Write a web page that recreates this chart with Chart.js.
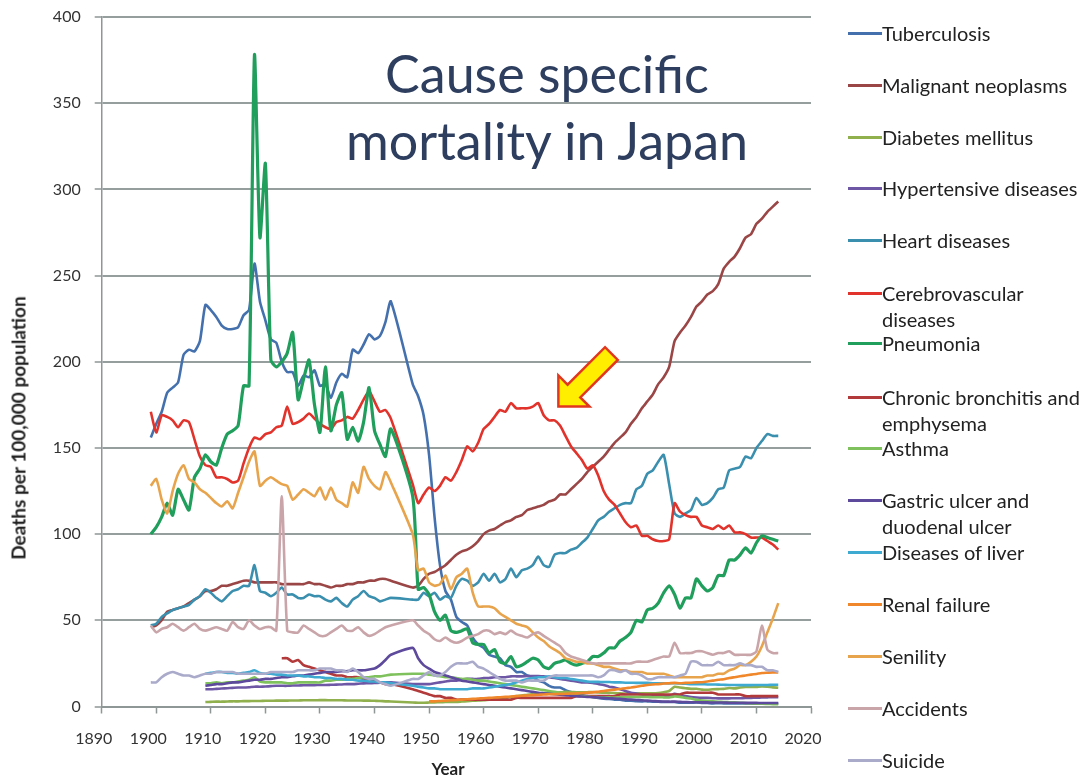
<!DOCTYPE html>
<html>
<head>
<meta charset="utf-8">
<script src="https://cdn.jsdelivr.net/npm/chart.js"></script>
<style>
  html, body { margin: 0; padding: 0; background: #fff; }
  #wrap { position: relative; width: 1091px; height: 779px; font-family: Lato, "Open Sans", sans-serif; color: #333; }
  #chart { position: absolute; left: 0; top: 0; }
  #title { position: absolute; left: 297px; top: 40px; width: 500px; text-align: center; color: #2d3e5f; font-size: 52px; line-height: 67px; }
  #ytitle { position: absolute; left: 18px; top: 428px; transform: translate(-50%, -50%) rotate(-90deg); white-space: nowrap; font-weight: bold; font-size: 19px; color: #222; }
  #xtitle { position: absolute; left: 448px; top: 768px; transform: translate(-50%, -50%); font-weight: bold; font-size: 17px; color: #222; }
  .item { position: absolute; left: 848px; line-height: 26px; font-size: 20px; color: #222; white-space: nowrap; }
  .item .mark { position: absolute; left: 0; top: 12px; width: 34px; height: 3px; }
  .item .txt { position: absolute; left: 34px; top: 0; }
</style>
</head>
<body>
<div id="wrap">
  <canvas id="chart" width="1091" height="779"></canvas>
  <div id="title">Cause specific<br>mortality in Japan</div>
  <div id="ytitle">Deaths per 100,000 population</div>
  <div id="xtitle">Year</div>
  <div id="legend"></div>
</div>
<script>
// Deaths per 100,000 population, one value per year, null = no data (1944-46)
const tuberculosis = [
  156,164,171,182,185,188,204,207,206,212,
  233,230,226,221,219,219,220,227,230,257,
  235,224,213,211,200,194,194,186,192,191,
  195,186,187,179,188,193,191,207,205,210,
  216,213,215,223,235,null,null,null,187,180,
  169,146,110,82,67,62,52,49,47,40,
  36,34,30,29,28,24,23,20,20,18,
  17,15,14,12,11,11,9.5,8.4,7.4,6.6,
  6.1,5.5,4.9,4.5,4.4,4.0,3.9,3.4,3.4,3.1,
  3.0,3.0,2.8,2.8,2.6,2.6,2.6,2.2,2.2,2.2,
  2.3,2.1,2.0,1.8,1.9,1.8,1.8,1.8,1.7,1.8,
  1.7,1.7,1.7,1.7,1.7,1.7
];
const malignant = [
  46,47,50,55,56,57,58,60,62,64,
  67,67,68,70,70,71,72,73,73,72,
  72,72,72,72,71,71,71,71,71,72,
  71,71,70,69,70,70,71,71,72,72,
  73,73,74,74,73,null,null,null,69,70,
  74,77,78,80,82,85,88,90,91,93,
  96,100,102,103,105,107,108,110,111,114,
  115,116,117,119,120,123,123,126,129,132,
  136,139,142,145,149,153,156,159,164,168,
  173,177,181,187,191,197,212,217,221,226,
  232,235,239,241,245,254,258,261,266,272,
  274,280,283,287,290,293
];
const diabetes = [
  2.6,2.7,2.8,2.8,2.9,3.0,3.0,3.1,3.1,3.2,
  3.2,3.3,3.3,3.4,3.4,3.4,3.5,3.5,3.6,3.6,
  3.6,3.7,3.7,3.6,3.6,3.6,3.5,3.5,3.5,3.4,
  3.4,3.3,3.2,3.0,2.9,null,null,null,2.3,2.2,
  2.2,2.3,2.4,2.5,2.6,2.7,2.7,2.9,3.1,3.3,
  3.5,3.6,4.0,4.2,4.6,5.0,5.5,6.0,6.3,6.8,
  7.2,7.5,7.7,7.9,8.0,8.2,8.5,8.4,8.3,8.2,
  8.3,8.4,8.1,8.0,7.9,7.8,7.6,7.5,7.6,7.6,
  7.7,7.7,7.6,7.8,8.3,9.0,11.4,11.0,10.6,10.2,
  10.3,9.8,9.7,10.0,10.1,10.2,10.7,10.5,11.0,11.3,
  11.3,11.4,11.7,11.5,11.1,10.9
];
const hypertensive = [
  10,10,10.2,10.4,10.6,10.8,11,11,11.2,11.5,
  11.5,11.6,11.8,12,12,12,12.2,12.2,12.3,12.4,
  12.4,12.5,12.5,12.6,12.7,12.8,13,13,13.2,13.4,
  13.5,13.6,13.8,14,14,null,null,null,13,13,
  13,13,13.5,14,14.5,15,15,15.5,16,16,
  16,16.5,16.5,17,17,17,17.5,17.5,17.5,17.7,
  17.7,17.7,17.5,17,16.5,16,15.5,15,14.5,14,
  14,13.7,13,12.5,11.5,11,10,9,8,7.5,
  7,6.4,6.2,6,6,6,7.3,6.5,6,5.5,
  5.2,5.0,5.0,4.8,4.7,4.7,4.7,4.8,4.8,4.9,
  5.0,5.1,5.2,5.3,5.4,5.4
];
const heart = [
  47,48,52,54,56,57,58,59,62,64,
  68,66,63,61,64,67,68,70,70,82,
  67,66,64,66,69,65,65,63,63,65,
  64,64,62,61,63,60,58,62,64,67,
  64,63,61,62,63,null,null,null,62,62,
  66,64,66,62,64,63,70,74,73,70,
  72,77,73,77,72,74,80,75,79,80,
  82,87,82,81,88,89,89,91,92,95,
  98,103,108,110,113,115,117,118,118,126,
  128,135,137,142,146,129,112,110,112,114,
  121,117,118,121,126,127,137,138,139,145,
  144,150,154,158,157,157
];
const cerebrovascular = [
  171,159,169,168,166,162,166,165,155,145,
  140,139,133,133,132,130,131,141,150,156,
  155,158,159,162,163,174,164,165,167,170,
  167,164,162,161,165,166,168,167,172,178,
  183,177,171,172,167,null,null,null,129,118,
  123,127,125,128,133,131,136,143,151,148,
  153,161,164,168,172,171,176,173,173,173,
  174,176,169,166,166,163,157,151,147,143,
  138,140,134,125,120,117,112,107,104,105,
  99,99,97,96,96,97,118,113,111,110,
  110,105,104,103,105,103,105,101,101,100,
  98,98,98,96,94,91
];
const pneumonia = [
  100,104,110,118,111,126,120,114,133,138,
  146,142,140,150,158,160,163,186,186,378,
  272,315,201,197,200,205,217,178,190,201,
  175,159,197,160,175,182,155,162,154,165,
  185,160,152,145,161,null,null,null,122,68,
  69,65,55,50,53,44,43,44,45,37,
  36,36,31,33,26,25,29,23,24,26,
  28,27,23,22,25,26,27,25,24,25,
  26,29,29,31,34,34,38,40,43,50,
  49,56,57,60,66,70,65,57,63,63,
  74,70,67,69,76,76,85,85,88,92,
  89,95,99,98,97,96
];
const bronchitis = [
  28,28,26,27,24,23,22,21,20,19,
  18,18,17,17,17,16,16,15,14,13,
  13,null,null,null,10,9,8,7,6,6,
  5,5,4,4,4,4,4,4,4,4,
  4,4,4,5,5,5,5,5,5,5,
  5,5,5,5,6,6,6,6,6,6,
  6,6,7,7,7,7,7,7,7,7,
  7,7,7,7,8,8,8,8,8,8,
  7,7,7,7,7,6,6,6,6,6,
  6,6
];
const asthma = [
  13.5,13.5,14,13.5,14,14,14.5,15,15.5,17,
  14.5,14,14,14,14,13.5,13.5,14,14,14,
  14,14,15,15,15.5,15.5,16,16,16.5,17,
  17,17.5,17.5,18,18.5,null,null,null,19,19,
  19,18.5,18,17.5,17,17,16.5,16,16,15.5,
  15,15,14.5,14,13.5,13,12.5,12,11.5,11,
  10.5,10,9.5,9,8.5,8,7.5,7,6.5,6,
  5.8,5.5,5.4,5.3,5.3,5.2,5.3,5.4,5.5,5.5,
  5.5,5.5,5.4,5.4,5.3,5.2,5.8,5.6,5.0,4.6,
  3.9,3.5,3.2,3.0,2.8,2.6,2.5,2.4,2.2,2.0,
  1.7,1.6,1.6,1.5,1.4,1.3
];
const ulcer = [
  12,12.5,13,13,13.5,14,14,14.5,15,15.5,
  15.5,16,16,16.5,17,17,17.5,18,18,18.5,
  19,19.5,20,20,20,20.5,20.5,21,21,21,
  21.5,22,24,27,30,null,null,null,34,28,
  24,22,20,19,18,17,16,15,14.5,14,
  13.5,13,12.5,12,11.5,11,10.5,10,9.5,9,
  8.5,8,7.7,7.4,7.1,6.8,6.5,6.2,6,5.8,
  5.6,5.4,5.2,5.0,4.8,4.6,4.4,4.2,4.0,3.8,
  3.6,3.4,3.2,3.0,2.9,2.8,2.8,2.7,2.6,2.5,
  2.5,2.4,2.4,2.3,2.3,2.3,2.2,2.2,2.2,2.1,
  2.1,2.1,2.0,2.0,2.0,2.0
];
const liver = [
  19,19.5,20,20,19.5,19.5,19,19.5,20,21,
  19.5,19,19,18.5,18.5,18,18,18,17.5,17.5,
  17,17,16.5,16.5,16,16,15.5,15.5,15,15,
  14.5,14.5,14,14,13.5,null,null,null,12,11.5,
  11,10.5,10.5,10,10,10,10,10,10,10.5,
  10.5,10.5,11,11.5,12,12.5,13,14,15,16,
  16.5,17,17,17.5,17,16.5,16.5,16,15.5,15,
  14.5,14.3,14.3,14.2,14.2,14,14,13.8,13.8,13.7,
  13.7,13.7,13.5,13.5,13.5,13.4,13.5,13.3,13.2,13,
  13,13,12.8,12.8,12.7,12.6,12.5,12.5,12.4,12.4,
  12.4,12.5,12.5,12.5,12.6,12.6
];
const renal = [
  3,3,3.2,3.4,3.6,3.8,4,4.2,4.4,4.6,
  4.8,5,5.2,5.4,5.6,5.8,6,6.2,6.4,6.6,
  6.8,7,7.1,7.2,7.3,7.4,7.5,7.6,7.8,8,
  8.2,8.6,9,9.4,9.8,10.2,10.6,11,11.5,12,
  12.5,12.8,13,13.3,13.5,13.7,13.5,13.7,13.8,14,
  14.1,14.5,15,15.5,15.8,16.5,17,17.5,18,18.5,
  18.9,19.4,19.6,19.8,19.8
];
const senility = [
  128,132,120,112,125,135,140,132,130,126,
  124,121,118,116,119,115,124,133,142,148,
  128,131,133,131,129,128,120,123,126,124,
  122,127,120,127,120,118,116,130,124,139,
  132,128,126,136,130,null,null,null,100,79,
  80,72,70,71,76,68,75,77,80,66,
  58,58,58,57,54,52,50,48,47,46,
  43,40,38,35,33,31,28,27,26,26,
  25,25,24,23,23,22,21,21,20,20,
  20,19,19,19,19,18,17,17,17,17,
  17,17,18,18,19,19,21,22,24,24,
  26,29,35,43,51,60
];
const accidents = [
  47,43,45,46,48,46,44,46,48,45,
  44,45,46,45,44,49,46,45,50,47,
  45,46,46,44,122,44,43,43,47,45,
  43,41,41,43,45,47,44,44,46,43,
  41,42,44,46,47,null,null,null,50,47,
  44,42,39,38,40,38,37,38,40,41,
  42,44,44,42,43,42,44,42,41,40,
  42,43,41,39,37,35,31,29,28,27,
  26,25,25,25,25,25,25,25,25,26,
  26,26,27,28,29,29,37,31,31,31,
  32,32,31,30,31,31,32,30,30,30,
  30,32,47,33,31,31
];
const suicide = [
  14,14,17,19,20,19,18,18,17,18,
  19,19,20,20,20,20,19,19,19,19,
  19,19,20,20,20,20,20,21,21,21,
  21,22,22,22,21,21,20,22,20,17,
  16,16,14,13,12,null,null,null,16,16,
  18,20,18,18,20,23,25,25,25,26,
  23,22,20,18,16,15,15,15,14,15,
  15,15,15,17,18,18,18,18,18,18,
  18,18,17,18,21,21,20,21,19,19,
  18,16,16,17,17,17,17,18,19,26,
  26,24,24,24,26,24,24,24,25,24,
  24,23,23,21,21,20
];

const seriesNames = [
  "Tuberculosis", "Malignant neoplasms", "Diabetes mellitus", "Hypertensive diseases",
  "Heart diseases", "Cerebrovascular diseases", "Pneumonia", "Chronic bronchitis and emphysema",
  "Asthma", "Gastric ulcer and duodenal ulcer", "Diseases of liver", "Renal failure",
  "Senility", "Accidents", "Suicide"
];
// legend text broken the way the original legend wraps it
const legendText = [
  "Tuberculosis", "Malignant neoplasms", "Diabetes mellitus", "Hypertensive diseases",
  "Heart diseases", "Cerebrovascular<br>diseases", "Pneumonia", "Chronic bronchitis and<br>emphysema",
  "Asthma", "Gastric ulcer and<br>duodenal ulcer", "Diseases of liver", "Renal failure",
  "Senility", "Accidents", "Suicide"
];
const seriesValues = [
  tuberculosis, malignant, diabetes, hypertensive, heart, cerebrovascular, pneumonia,
  bronchitis, asthma, ulcer, liver, renal, senility, accidents, suicide
];
const seriesStart = [1899, 1899, 1909, 1909, 1899, 1899, 1899, 1923, 1909, 1909, 1909, 1950, 1899, 1899, 1899];
const seriesColors = [
  "#4471ad", "#9b4646", "#8fb04c", "#6e58a6", "#3a8fae", "#e1332b", "#1f9e5c", "#b33a3a",
  "#7fc25d", "#5e4a9c", "#3ea9d1", "#f0882b", "#e8a44c", "#c9a5aa", "#aaaacb"
];
const legendY = [33, 85, 137, 188, 240, 293, 343, 397, 448, 500, 552, 604, 656, 708, 760];

const xTicks = { min: 1890, max: 2020, step: 10 };
const yTicks = { min: 0, max: 400, step: 50 };
const arrowTip = [1973.7, 174];

const datasets = seriesNames.map((name, i) => ({
  label: name,
  data: seriesValues[i].map((v, k) => ({ x: seriesStart[i] + k, y: v })),
  borderColor: seriesColors[i],
  backgroundColor: seriesColors[i],
  borderWidth: name === "Pneumonia" ? 3.2 : 2.6,
  pointRadius: 0,
  tension: 0.2,
  spanGaps: true,
  fill: false,
  order: -i
}));

// yellow arrow pointing at the 1970 cerebrovascular peak
const arrowPlugin = {
  id: "arrow",
  afterDatasetsDraw(chart) {
    const { ctx, scales } = chart;
    const tx = scales.x.getPixelForValue(arrowTip[0]);
    const ty = scales.y.getPixelForValue(arrowTip[1]);
    const d = [Math.SQRT1_2, -Math.SQRT1_2];
    const p = [Math.SQRT1_2, Math.SQRT1_2];
    const shape = [[0, 0], [22, 22], [22, 9], [75, 9], [75, -9], [22, -9], [22, -22]];
    ctx.save();
    ctx.beginPath();
    shape.forEach(([u, w], k) => {
      const px = tx + u * d[0] + w * p[0];
      const py = ty + u * d[1] + w * p[1];
      if (k === 0) ctx.moveTo(px, py); else ctx.lineTo(px, py);
    });
    ctx.closePath();
    ctx.fillStyle = "#ffee00";
    ctx.fill();
    ctx.lineWidth = 2.5;
    ctx.lineJoin = "miter";
    ctx.strokeStyle = "#e2371f";
    ctx.stroke();
    ctx.restore();
  }
};

new Chart(document.getElementById("chart"), {
  type: "line",
  data: { datasets: datasets },
  plugins: [arrowPlugin],
  options: {
    responsive: false,
    animation: false,
    layout: { padding: { left: 0, top: 17, right: 280, bottom: 0 } },
    plugins: { legend: { display: false }, tooltip: { enabled: false } },
    scales: {
      x: {
        type: "linear",
        min: xTicks.min,
        max: xTicks.max,
        afterFit: (scale) => { scale.height = 72.5; },
        ticks: {
          stepSize: xTicks.step,
          autoSkip: false,
          maxRotation: 0,
          padding: 16,
          labelOffset: -8,
          color: "#333",
          font: { family: "Lato", size: 16 },
          callback: (v) => String(v)
        },
        grid: { drawOnChartArea: false, drawTicks: true, tickLength: 7, tickColor: "#8e9696", tickWidth: 1.5 },
        border: { display: true, color: "#8e9696", width: 2 }
      },
      y: {
        min: yTicks.min,
        max: yTicks.max,
        afterFit: (scale) => { scale.width = 101.7; scale.paddingTop = 0; scale.paddingBottom = 0; },
        ticks: {
          stepSize: yTicks.step,
          padding: 14,
          color: "#333",
          font: { family: "Lato", size: 16 },
          callback: (v) => String(v)
        },
        grid: { color: "#959d9d", lineWidth: 2, tickLength: 7, tickColor: "#8e9696", tickWidth: 1.5 },
        border: { display: true, color: "#8e9696", width: 1.5 }
      }
    }
  }
});

const legend = document.getElementById("legend");
seriesNames.forEach((name, i) => {
  const item = document.createElement("div");
  item.className = "item";
  item.style.top = (legendY[i] - 13) + "px";
  item.innerHTML = `<span class="mark" style="background:${seriesColors[i]}"></span><span class="txt">${legendText[i]}</span>`;
  legend.appendChild(item);
});
</script>
</body>
</html>
